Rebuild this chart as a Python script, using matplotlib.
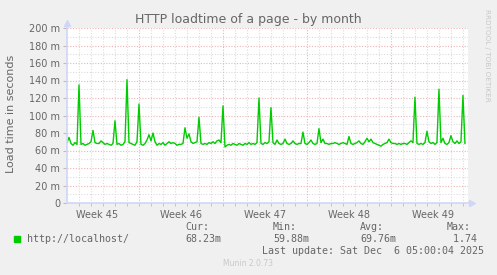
"""Munin-style monthly HTTP loadtime graph (localhost)."""
import numpy as np
import matplotlib
matplotlib.use("Agg")
import matplotlib.pyplot as plt

W, H = 497, 275

# --- data: one sample every 4 h, starting day 1.0 (day 0 = start of week 45) ---
START_DAY = 1.0
STEP_DAY = 1.0 / 6.0
loadtime_ms = [
    69, 75, 68, 66, 69, 67, 135, 67, 68, 66,
    67, 68, 70, 83, 69, 68, 68, 71, 69, 67,
    68, 67, 66, 68, 94, 67, 68, 66, 67, 70,
    141, 69, 68, 67, 66, 70, 113, 67, 66, 68,
    72, 78, 71, 80, 70, 66, 68, 67, 69, 66,
    68, 70, 68, 69, 68, 66, 67, 67, 68, 86,
    74, 79, 70, 68, 69, 70, 98, 68, 67, 68,
    67, 69, 68, 70, 68, 71, 72, 69, 111, 64,
    66, 67, 66, 68, 67, 66, 68, 67, 66, 68,
    67, 69, 67, 68, 67, 69, 120, 68, 67, 69,
    68, 70, 109, 69, 67, 72, 68, 67, 68, 73,
    68, 67, 68, 71, 68, 67, 68, 68, 81, 68,
    67, 69, 72, 68, 67, 68, 85, 69, 73, 68,
    68, 67, 68, 68, 69, 68, 67, 68, 69, 68,
    67, 76, 68, 67, 68, 69, 71, 68, 67, 70,
    74, 70, 73, 69, 68, 67, 66, 65, 67, 68,
    69, 73, 69, 68, 68, 67, 68, 67, 68, 68,
    67, 69, 71, 69, 121, 68, 67, 68, 67, 69,
    82, 70, 68, 69, 67, 69, 130, 69, 74, 68,
    67, 69, 77, 70, 68, 71, 68, 70, 123, 68,
]
week_labels = ["Week 45", "Week 46", "Week 47", "Week 48", "Week 49"]
stat_names = ["Cur:", "Min:", "Avg:", "Max:"]
stat_values = ["68.23m", "59.88m", "69.76m", " 1.74"]
series_name = "http://localhost/"
last_update = "Last update: Sat Dec  6 05:00:04 2025"

X_MIN, X_MAX = 1.0, 34.42
Y_MAX = 200

BACK = "#F0F0F0"
FONT = "#666666"
AXIS = "#CFD6F8"
GREEN = "#00CC00"


def px(x, y):
    return x / W, 1 - y / H


fig = plt.figure(figsize=(W / 100, H / 100), dpi=100, facecolor=BACK)
l, b = 67 / W, 1 - 203 / H
ax = fig.add_axes([l, b, (468 - 67) / W, (203 - 28) / H], facecolor="white")

days = START_DAY + STEP_DAY * np.arange(len(loadtime_ms))

# grid: minor grey every 10 m / 1 day, major pink every 20 m / 1 week
for v in range(10, Y_MAX + 1, 10):
    c = "#EDB4B4" if v % 20 == 0 else "#DCDCDC"
    ax.axhline(v, color=c, lw=0.8, ls=(0, (1, 1.5)), zorder=1)
for d in range(2, 35):
    c = "#EDB4B4" if d % 7 == 0 else "#DCDCDC"
    ax.axvline(d, color=c, lw=0.8, ls=(0, (1, 1.5)), zorder=1)

ax.plot(days, loadtime_ms, color=GREEN, lw=1.0, zorder=3)

ax.set_xlim(X_MIN, X_MAX)
ax.set_ylim(0, Y_MAX)
for s in ax.spines.values():
    s.set_visible(False)
# axes with arrows
ax.plot([X_MIN, X_MIN], [0, 206], color=AXIS, lw=1.2, clip_on=False, zorder=4)
ax.plot([X_MIN, X_MAX + 0.3], [0, 0], color=AXIS, lw=1.2, clip_on=False, zorder=4)
ax.plot([X_MIN], [206], marker="^", color=AXIS, ms=4, clip_on=False, zorder=4)
ax.plot([X_MAX + 0.35], [0], marker=">", color=AXIS, ms=4, clip_on=False, zorder=4)

yt = list(range(0, Y_MAX + 1, 20))
ax.set_yticks(yt, ["0"] + [f"{v} m" for v in yt[1:]])
ax.set_xticks([3.5 + 7 * k for k in range(len(week_labels))], week_labels)
ax.set_xticks(range(2, 35), minor=True)
ax.tick_params(axis="y", length=3, color="#BBBBBB", labelsize=7, labelcolor=FONT, pad=2)
ax.tick_params(axis="x", which="major", length=0, labelsize=7, labelcolor=FONT, pad=5)
ax.tick_params(axis="x", which="minor", length=2, color="#BBBBBB")

fig.text(*px(248, 19), "HTTP loadtime of a page - by month", ha="center", va="center",
         fontsize=9.0, color=FONT)
fig.text(*px(11, 114), "Load time in seconds", ha="center", va="center",
         rotation=90, fontsize=8, color=FONT)
fig.text(*px(487, 55), "RRDTOOL / TOBI OETIKER", ha="center", va="center",
         rotation=270, fontsize=5.2, color="#C8C8C8")

# legend
fig.patches.append(plt.Rectangle(px(14, 242), 6 / W, 6 / H, color=GREEN,
                                 transform=fig.transFigure, figure=fig))
mono = dict(family="DejaVu Sans Mono", fontsize=7.2, color=FONT, va="center")
fig.text(*px(27, 239), series_name, **mono)
for x, n, v in zip([185, 273, 360, 447], stat_names, stat_values):
    fig.text(*px(x, 227), n, **mono)
    fig.text(*px(x, 239), v, **mono)
fig.text(*px(262, 251), last_update, **mono)
fig.text(*px(248, 264), "Munin 2.0.73", ha="center", va="center",
         fontsize=5.5, color="#C8C8C8")

fig.savefig("out.png", dpi=100, facecolor=BACK)
